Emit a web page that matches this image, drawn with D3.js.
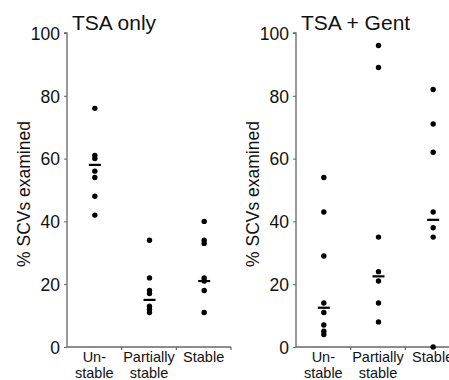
<!DOCTYPE html>
<html><head><meta charset="utf-8">
<script src="https://cdn.jsdelivr.net/npm/d3@7"></script>
<style>body{margin:0;background:#fff}svg{display:block}text{font-family:"Liberation Sans",Arial,sans-serif}</style>
</head><body>
<script>
const categories = ["Unstable", "Partially stable", "Stable"];
const categoryLines = [["Un-", "stable"], ["Partially", "stable"], ["Stable"]];
const yTicks = [0, 20, 40, 60, 80, 100];
const titles = ["TSA only", "TSA + Gent"];
const yLabel = "% SCVs examined";

const tsaUnstable = [76, 61, 60, 56, 54, 48, 42];
const tsaPartial = [34, 22, 18, 17, 13, 12, 11];
const tsaStable = [40, 34, 33, 22, 21, 18, 11];
const tsaLines = [58, 15, 21];

const gentUnstable = [54, 43, 29, 14, 11, 7, 5, 4];
const gentPartial = [96, 89, 35, 24, 21, 14, 8];
const gentStable = [82, 71, 62, 43, 38, 35, 0];
const gentLines = [12.5, 22.5, 40.5];

const panels = [
  {title: titles[0], series: [tsaUnstable, tsaPartial, tsaStable], lines: tsaLines, x0: 67, x1: 231, labelX: 24},
  {title: titles[1], series: [gentUnstable, gentPartial, gentStable], lines: gentLines, x0: 296, x1: 460, labelX: 253}
];

const W = 449, H = 380;
const svg = d3.select("body").append("svg").attr("width", W).attr("height", H);
const y = d3.scaleLinear().domain([0, 100]).range([347, 33]);

panels.forEach(p => {
  const g = svg.append("g");
  const x = d3.scaleBand().domain(categories).range([p.x0, p.x1]).padding(0);
  // y axis
  const ya = g.append("g").attr("transform", `translate(${p.x0},0)`)
    .call(d3.axisLeft(y).tickValues(yTicks).tickSize(3).tickPadding(4));
  ya.select(".domain").attr("stroke", "#666").attr("stroke-width", 1.3).attr("d", `M-3,${y(100)}H0V${y(0)}`);
  ya.selectAll(".tick line").attr("stroke", "#666");
  ya.selectAll(".tick text").attr("font-size", 17.5).attr("fill", "#111").attr("dy", "0.36em");
  // x axis
  const xa = g.append("g").attr("transform", `translate(0,${y(0)})`);
  xa.append("line").attr("x1", p.x0).attr("x2", p.x1).attr("stroke", "#666").attr("stroke-width", 1.5);
  const bounds = categories.map(c => x(c) + x.bandwidth());
  xa.selectAll("line.tk").data(bounds).join("line").attr("class", "tk")
    .attr("x1", d => d).attr("x2", d => d).attr("y1", 0).attr("y2", 3).attr("stroke", "#666").attr("stroke-width", 1.2);
  categories.forEach((c, i) => {
    const t = xa.append("text").attr("x", x(c) + x.bandwidth() / 2).attr("y", 15)
      .attr("text-anchor", "middle").attr("font-size", 14.5).attr("fill", "#111");
    categoryLines[i].forEach((ln, j) => {
      t.append("tspan").attr("x", x(c) + x.bandwidth() / 2).attr("y", 15 + j * 16).text(ln);
    });
  });
  // title
  g.append("text").attr("x", p.x0 + 5).attr("y", 30).attr("font-size", 21).attr("fill", "#111").text(p.title);
  // y label
  g.append("text").attr("transform", `translate(${p.labelX + 6},${(y(0) + y(100)) / 2 + 4}) rotate(-90)`)
    .attr("text-anchor", "middle").attr("font-size", 17.5).attr("fill", "#111").text(yLabel);
  // dots
  p.series.forEach((vals, i) => {
    const cx = x(categories[i]) + x.bandwidth() / 2 + 0.5;
    g.selectAll(null).data(vals).join("circle")
      .attr("cx", cx).attr("cy", d => y(d)).attr("r", 2.7).attr("fill", "#000");
    g.append("line").attr("x1", cx - 6).attr("x2", cx + 6)
      .attr("y1", y(p.lines[i])).attr("y2", y(p.lines[i])).attr("stroke", "#000").attr("stroke-width", 2.2);
  });
});
</script>
</body></html>
